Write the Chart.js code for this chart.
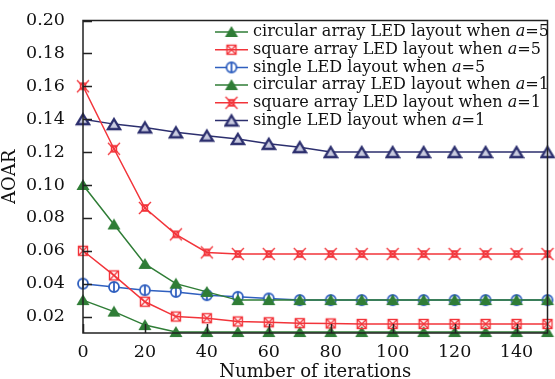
<!DOCTYPE html>
<html lang="en">
<head>
    <meta charset="UTF-8">
    <title>AOAR vs iterations</title>
    <script src="https://cdn.jsdelivr.net/npm/chart.js"></script>
    <style>
        body { margin: 0; padding: 0; background: #fff; }
        #wrap { width: 555px; height: 379px; }
    </style>
</head>
<body>
    <div id="wrap"><canvas id="aoarChart" width="555" height="379"></canvas></div>
    <script>
        const iterations = [0, 10, 20, 30, 40, 50, 60, 70, 80, 90, 100, 110, 120, 130, 140, 150];
        const yTicks = [0.02, 0.04, 0.06, 0.08, 0.10, 0.12, 0.14, 0.16, 0.18, 0.20];
        const xTicks = [0, 20, 40, 60, 80, 100, 120, 140];

        const circularA5 = [0.100, 0.076, 0.052, 0.040, 0.035, 0.030, 0.030, 0.030, 0.030, 0.030, 0.030, 0.030, 0.030, 0.030, 0.030, 0.030];
        const squareA5   = [0.060, 0.045, 0.029, 0.020, 0.019, 0.017, 0.0165, 0.016, 0.0158, 0.0155, 0.0155, 0.0155, 0.0155, 0.0155, 0.0155, 0.0155];
        const singleA5   = [0.040, 0.038, 0.036, 0.035, 0.033, 0.032, 0.031, 0.030, 0.030, 0.030, 0.030, 0.030, 0.030, 0.030, 0.030, 0.030];
        const circularA1 = [0.030, 0.023, 0.0148, 0.0106, 0.0106, 0.0106, 0.0106, 0.0106, 0.0106, 0.0106, 0.0106, 0.0106, 0.0106, 0.0106, 0.0106, 0.0106];
        const squareA1   = [0.160, 0.122, 0.086, 0.070, 0.059, 0.058, 0.058, 0.058, 0.058, 0.058, 0.058, 0.058, 0.058, 0.058, 0.058, 0.058];
        const singleA1   = [0.140, 0.137, 0.135, 0.132, 0.130, 0.128, 0.125, 0.123, 0.120, 0.120, 0.120, 0.120, 0.120, 0.120, 0.120, 0.120];

        const seriesNames = [
            'circular array LED layout when ',
            'square array LED layout when ',
            'single LED layout when ',
            'circular array LED layout when ',
            'square array LED layout when ',
            'single LED layout when '
        ];
        const seriesA = ['5', '5', '5', '1', '1', '1'];

        const GREEN = '#2f7d36';
        const RED = '#f2343a';
        const BLUE = '#2f5fbf';
        const NAVY = '#2c2f6e';
        const SERIF = '"DejaVu Serif", "Liberation Serif", serif';
        const TEXT = '#111';

        // small canvases used as point styles
        function marker(kind, color) {
            const s = 16;
            const c = document.createElement('canvas');
            c.width = s; c.height = s;
            const g = c.getContext('2d');
            g.strokeStyle = color;
            g.fillStyle = color;
            g.lineWidth = 1.4;
            if (kind === 'tri') {
                g.beginPath();
                g.moveTo(8, 2); g.lineTo(14.5, 13); g.lineTo(1.5, 13); g.closePath();
                g.fill();
            } else if (kind === 'triOpen') {
                g.lineWidth = 2.4;
                g.beginPath();
                g.moveTo(8, 3); g.lineTo(14, 13); g.lineTo(2, 13); g.closePath();
                g.fillStyle = '#c9cbe0';
                g.fill();
                g.stroke();
            } else if (kind === 'boxX') {
                g.strokeRect(3.5, 3.5, 9, 9);
                g.beginPath();
                g.moveTo(3.5, 3.5); g.lineTo(12.5, 12.5);
                g.moveTo(12.5, 3.5); g.lineTo(3.5, 12.5);
                g.stroke();
            } else if (kind === 'circle') {
                g.lineWidth = 1.8;
                g.beginPath();
                g.arc(8, 8, 5, 0, Math.PI * 2);
                g.fillStyle = '#fff';
                g.fill();
                g.stroke();
                g.beginPath();
                g.moveTo(8, 3); g.lineTo(8, 13);
                g.stroke();
            } else if (kind === 'star') {
                g.beginPath();
                g.moveTo(2, 2); g.lineTo(14, 14);
                g.moveTo(14, 2); g.lineTo(2, 14);
                g.moveTo(4, 5); g.lineTo(12, 5);
                g.moveTo(4, 11); g.lineTo(12, 11);
                g.stroke();
                g.strokeRect(5.5, 5.5, 5, 5);
            }
            return c;
        }

        const markers = [
            marker('tri', GREEN),
            marker('boxX', RED),
            marker('circle', BLUE),
            marker('tri', GREEN),
            marker('star', RED),
            marker('triOpen', NAVY)
        ];
        const colors = [GREEN, RED, BLUE, GREEN, RED, NAVY];
        const values = [circularA5, squareA5, singleA5, circularA1, squareA1, singleA1];

        const datasets = values.map((v, i) => ({
            label: seriesNames[i] + 'a=' + seriesA[i],
            data: iterations.map((x, k) => ({ x: x, y: v[k] })),
            borderColor: colors[i],
            borderWidth: 1.5,
            pointStyle: markers[i],
            pointRadius: 6,
            clip: false
        }));

        // frame, inward ticks and legend drawn on top of the chart area
        const framePlugin = {
            id: 'frame',
            afterDraw(chart) {
                const ctx = chart.ctx;
                const a = chart.chartArea;
                const xs = chart.scales.x;
                const ys = chart.scales.y;
                ctx.save();
                ctx.strokeStyle = '#222';
                ctx.lineWidth = 1.5;
                ctx.strokeRect(a.left, a.top, a.right - a.left, a.bottom - a.top);
                ctx.beginPath();
                yTicks.forEach(t => {
                    const py = Math.round(ys.getPixelForValue(t)) + 0.5;
                    ctx.moveTo(a.left, py); ctx.lineTo(a.left + 9, py);
                });
                xTicks.forEach(t => {
                    const px = Math.round(xs.getPixelForValue(t)) + 0.5;
                    ctx.moveTo(px, a.bottom); ctx.lineTo(px, a.bottom - 9);
                });
                ctx.stroke();

                // legend
                const x0 = 215, x1 = 248, tx = 253;
                const font = '16.1px ' + SERIF;
                let y = 32;
                ctx.textBaseline = 'middle';
                datasets.forEach((d, i) => {
                    ctx.strokeStyle = colors[i];
                    ctx.lineWidth = 1.5;
                    ctx.beginPath();
                    ctx.moveTo(x0, y); ctx.lineTo(x1, y);
                    ctx.stroke();
                    ctx.drawImage(markers[i], (x0 + x1) / 2 - 8, y - 8);
                    ctx.fillStyle = TEXT;
                    let px = tx;
                    ctx.font = font;
                    ctx.fillText(seriesNames[i], px, y);
                    px += ctx.measureText(seriesNames[i]).width;
                    ctx.font = 'italic ' + font;
                    ctx.fillText('a', px, y);
                    px += ctx.measureText('a').width;
                    ctx.font = font;
                    ctx.fillText('=' + seriesA[i], px, y);
                    y += 17.7;
                });
                ctx.restore();
            }
        };

        new Chart(document.getElementById('aoarChart'), {
            type: 'line',
            data: { datasets: datasets },
            options: {
                responsive: false,
                animation: false,
                layout: { padding: { top: 17, right: 3, left: 0, bottom: 0 } },
                plugins: { legend: { display: false }, tooltip: { enabled: false } },
                scales: {
                    x: {
                        type: 'linear',
                        min: 0,
                        max: 150,
                        afterFit: s => { s.height = 46; },
                        afterBuildTicks: s => { s.ticks = xTicks.map(v => ({ value: v })); },
                        grid: { display: false },
                        border: { display: false },
                        ticks: { color: TEXT, font: { family: SERIF, size: 17.5 }, padding: 1, maxRotation: 0 },
                        title: { display: true, text: 'Number of iterations', color: TEXT, font: { family: SERIF, size: 18 }, padding: { top: 0, bottom: -4 } }
                    },
                    y: {
                        min: 0.01,
                        max: 0.20,
                        afterFit: s => { s.width = 83; },
                        afterBuildTicks: s => { s.ticks = yTicks.map(v => ({ value: v })); },
                        grid: { display: false },
                        border: { display: false },
                        ticks: { color: TEXT, font: { family: SERIF, size: 17.5 }, padding: 10, callback: v => v.toFixed(2) },
                        title: { display: true, text: 'AOAR', color: TEXT, font: { family: SERIF, size: 18 }, padding: { top: 0, bottom: 0 } }
                    }
                }
            },
            plugins: [framePlugin]
        });
    </script>
</body>
</html>
